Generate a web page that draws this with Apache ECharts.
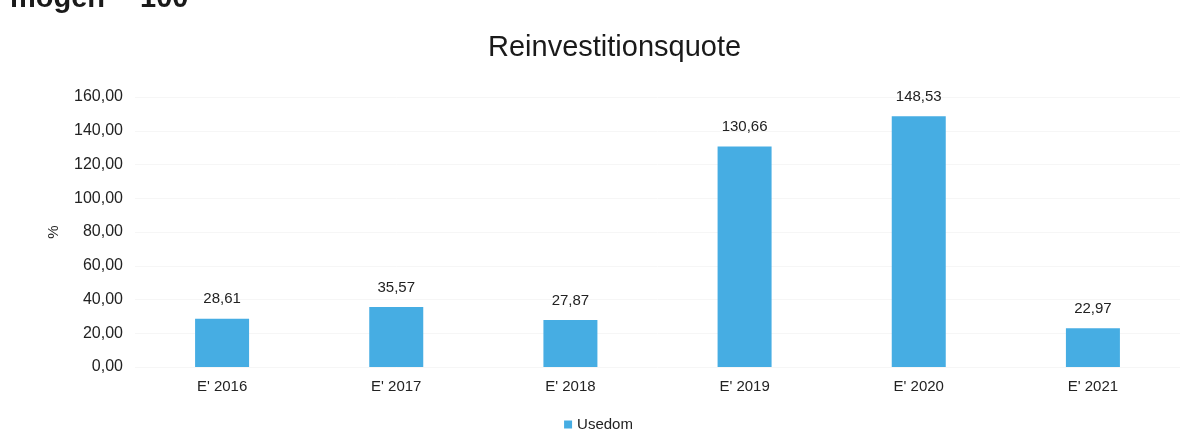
<!DOCTYPE html>
<head>
    <meta charset="utf-8">
    <title>Reinvestitionsquote</title>
    <style>
    html,body { height:100%; width:100%; margin:0; background:white; padding:0; }
    #main { width:1197px; height:444px; }
    </style>
</head>
<body>
    <div id="main"></div>
    <script src="https://cdn.jsdelivr.net/npm/echarts@6/dist/echarts.min.js"></script>
    <script type="text/javascript">
    var categories = ["E' 2016", "E' 2017", "E' 2018", "E' 2019", "E' 2020", "E' 2021"];
    var usedom = [28.61, 35.57, 27.87, 130.66, 148.53, 22.97];
    var seriesName = 'Usedom';

    function deNum(v) {
        return v.toFixed(2).replace('.', ',');
    }

    var myChart = echarts.init(document.getElementById('main'));
    var font = 'Liberation Sans, Arial, sans-serif';

    var options = {
        backgroundColor: '#fff',
        textStyle: { fontFamily: font },
        title: {
            text: 'Reinvestitionsquote',
            left: 483,
            top: 28,
            textStyle: { fontSize: 29, fontWeight: 'normal', color: '#1a1a1a', fontFamily: font }
        },
        graphic: [{
            type: 'text',
            left: 10,
            top: -16,
            style: { text: 'mögen', font: 'bold 29px ' + font, fill: '#1a1a1a' }
        }, {
            type: 'text',
            left: 140,
            top: -16,
            style: { text: '100', font: 'bold 29px ' + font, fill: '#1a1a1a' }
        }],
        legend: {
            data: [seriesName],
            bottom: 7,
            left: 'center',
            itemWidth: 8,
            itemHeight: 8,
            itemGap: 4,
            textStyle: { fontSize: 15, color: '#222' },
            icon: 'rect'
        },
        grid: { left: 135, right: 17, top: 97, bottom: 77 },
        xAxis: {
            type: 'category',
            data: categories,
            axisLine: { show: false },
            axisTick: { show: false },
            axisLabel: { fontSize: 15, color: '#222', margin: 12 }
        },
        yAxis: {
            type: 'value',
            min: 0,
            max: 160,
            interval: 20,
            name: '%',
            nameLocation: 'middle',
            nameGap: 74,
            nameRotate: 90,
            nameTextStyle: { fontSize: 15, color: '#222' },
            splitLine: { lineStyle: { color: '#f6f6f6' } },
            axisLabel: { fontSize: 16, color: '#222', margin: 12, formatter: deNum }
        },
        series: [{
            name: seriesName,
            type: 'bar',
            data: usedom,
            barWidth: 54,
            itemStyle: { color: '#46ade3' },
            label: {
                show: true,
                position: 'top',
                distance: 12,
                fontSize: 15,
                color: '#222',
                formatter: function (p) { return deNum(p.value); }
            }
        }]
    };
    myChart.setOption(options, true);
    </script>
</body>
